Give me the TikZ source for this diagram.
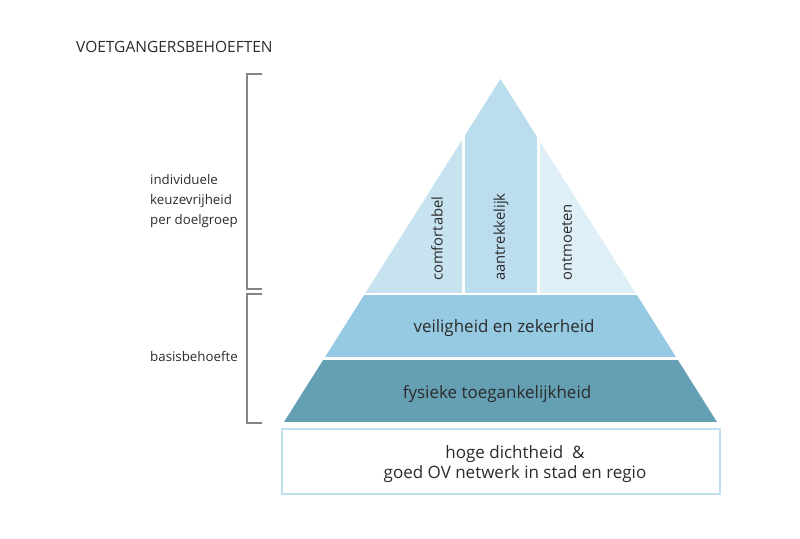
\documentclass[tikz,border=0pt]{standalone}
\usepackage{fontspec}
\setmainfont{Open Sans}
\usetikzlibrary{positioning}
\definecolor{txtgrey}{HTML}{2B2B2B}
\definecolor{colleft}{HTML}{C8E3F0}
\definecolor{colmid}{HTML}{BCDDED}
\definecolor{colright}{HTML}{DEEFF7}
\definecolor{colsafe}{HTML}{96C9E2}
\definecolor{colbase}{HTML}{649FB3}
\definecolor{boxline}{HTML}{BEDFEE}
\definecolor{bracegrey}{HTML}{858585}

\begin{document}
\begin{tikzpicture}[x=1pt,y=-1pt,
    lbl/.style={text=txtgrey,inner sep=0pt,font=\fontsize{13.3}{20}\selectfont},
    vlbl/.style={text=txtgrey,inner sep=0pt,rotate=90,anchor=west,font=\fontsize{14.8}{18}\selectfont},
    blbl/.style={text=txtgrey,inner sep=0pt,font=\fontsize{17}{20}\selectfont},
    bracket/.style={draw=bracegrey,line width=1.2pt}]
    \useasboundingbox (0,0) rectangle (800,538);

    \pgfmathsetmacro {\ax}{500.5}  %Apex x
    \pgfmathsetmacro {\ay}{79}     %Apex y
    \pgfmathsetmacro {\by}{422}    %Base y
    \pgfmathsetmacro {\hw}{216.5}  %Half base width

    %Pyramid pieces, cut out of one triangle
    \begin{scope}
        \clip (\ax,\ay) -- (\ax+\hw,\by) -- (\ax-\hw,\by) -- cycle;
        \fill[colleft]  (0,0)   rectangle (462,293);   %left column
        \fill[colmid]   (465,0) rectangle (537,293);   %middle column
        \fill[colright] (540,0) rectangle (800,293);   %right column
        \fill[colsafe]  (0,295) rectangle (800,357);   %second layer
        \fill[colbase]  (0,360) rectangle (800,422);   %bottom layer
    \end{scope}

    %Foundation box
    \draw[boxline,line width=1.5pt] (282,429) rectangle (720,494);

    %Column labels
    \node[vlbl] (comf) at (437,281) {comfortabel};
    \node[vlbl] (attr) at (501,281) {aantrekkelijk};
    \node[vlbl] (meet) at (567,281) {ontmoeten};

    %Layer labels
    \node[blbl,anchor=base] (safe) at (504,332) {veiligheid en zekerheid};
    \node[blbl,anchor=base] (phys) at (497,398) {fysieke toegankelijkheid};
    \node[blbl,align=center] (dens) at (515,464)
        {hoge dichtheid~~\&\\goed OV netwerk in stad en regio};

    %Title and side brackets
    \node[lbl,anchor=base west,font=\fontsize{15.5}{18}\selectfont] (title) at (76,52) {VOETGANGERSBEHOEFTEN};
    \draw[bracket] (262,74) -- (247,74) -- (247,289) -- (262,289);
    \draw[bracket] (262,294) -- (247,294) -- (247,423) -- (262,423);
    \node[lbl,align=left,anchor=west] (indiv) at (150,201.5)
        {individuele\\keuzevrijheid\\per doelgroep};
    \node[lbl,anchor=base west] (basis) at (150,361) {basisbehoefte};
\end{tikzpicture}
\end{document}
